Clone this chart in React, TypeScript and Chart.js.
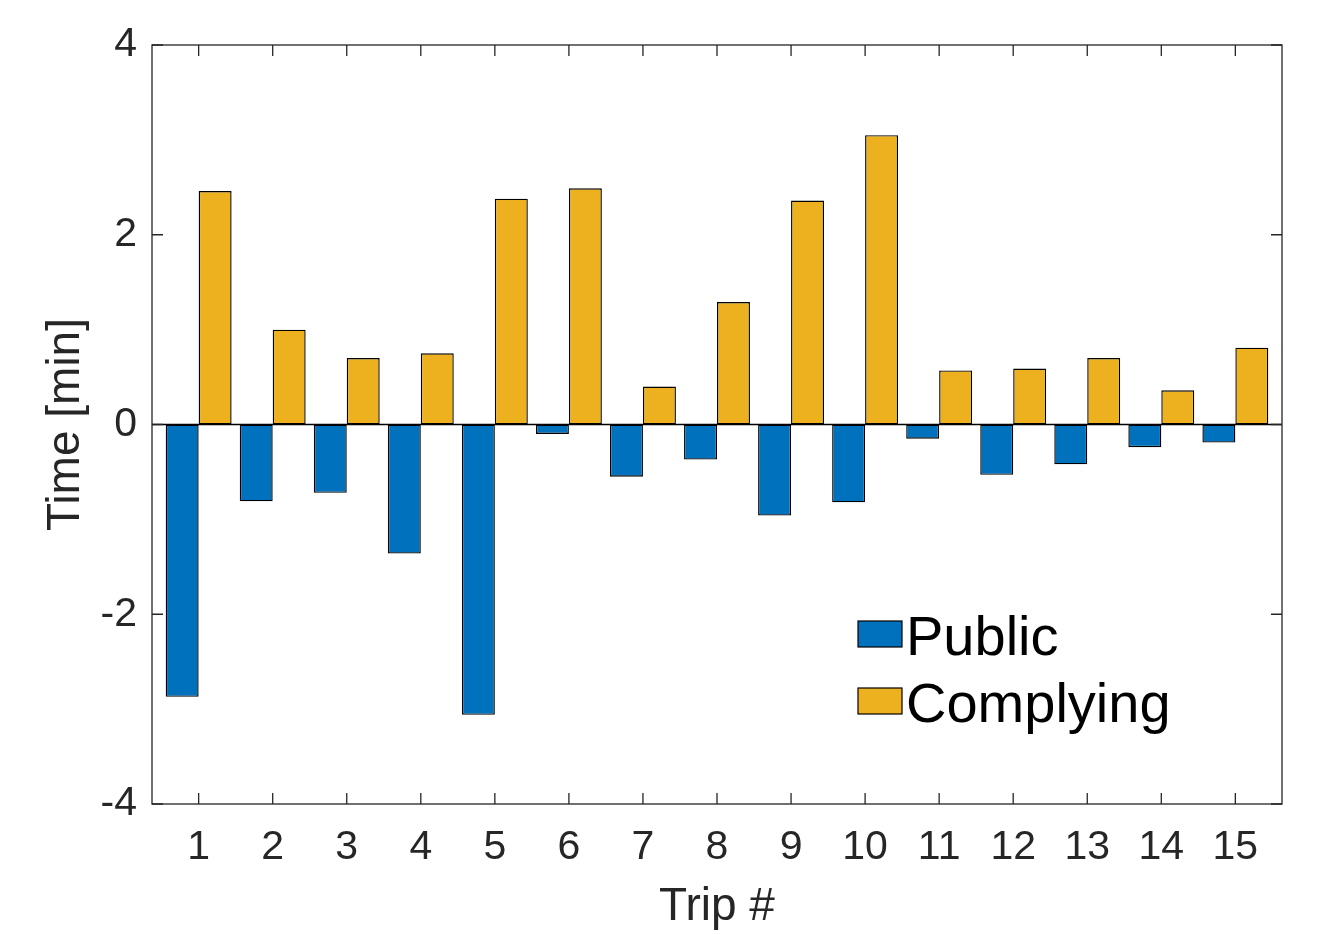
import { useRef, useEffect } from 'react'
import { Chart, registerables } from 'chart.js'

Chart.register(...registerables)

const trips = [1, 2, 3, 4, 5, 6, 7, 8, 9, 10, 11, 12, 13, 14, 15]
const publicTimes = [-2.87, -0.81, -0.72, -1.36, -3.06, -0.1, -0.55, -0.37, -0.96, -0.82, -0.15, -0.53, -0.42, -0.24, -0.19]
const complyingTimes = [2.46, 1.0, 0.7, 0.75, 2.38, 2.49, 0.4, 1.29, 2.36, 3.05, 0.57, 0.59, 0.7, 0.36, 0.81]
const yTicks = [-4, -2, 0, 2, 4]

const FONT = "'Liberation Sans', Arial, sans-serif"
const AXIS = '#262626'

// MATLAB-style box, inward ticks and zero baseline
const framePlugin = {
  id: 'frame',
  afterDatasetsDraw(chart: any) {
    const { ctx, chartArea: a, scales } = chart
    const x = scales.x
    const y = scales.y
    ctx.save()
    const y0 = y.getPixelForValue(0)
    ctx.strokeStyle = '#000'
    ctx.lineWidth = 1.3
    ctx.beginPath()
    ctx.moveTo(a.left, y0)
    ctx.lineTo(a.right, y0)
    ctx.stroke()

    ctx.strokeStyle = AXIS
    ctx.lineWidth = 1.3
    ctx.strokeRect(a.left, a.top, a.right - a.left, a.bottom - a.top)
    ctx.beginPath()
    x.ticks.forEach((t: any) => {
      const px = x.getPixelForValue(t.value)
      ctx.moveTo(px, a.bottom)
      ctx.lineTo(px, a.bottom - 11)
      ctx.moveTo(px, a.top)
      ctx.lineTo(px, a.top + 11)
    })
    y.ticks.forEach((t: any) => {
      const py = y.getPixelForValue(t.value)
      ctx.moveTo(a.left, py)
      ctx.lineTo(a.left + 11, py)
      ctx.moveTo(a.right, py)
      ctx.lineTo(a.right - 11, py)
    })
    ctx.stroke()
    ctx.restore()
  },
}

const legendPlugin = {
  id: 'insideLegend',
  afterDraw(chart: any) {
    const { ctx } = chart
    ctx.save()
    ctx.font = `56px ${FONT}`
    ctx.textBaseline = 'middle'
    ctx.textAlign = 'left'
    chart.data.datasets.forEach((ds: any, i: number) => {
      const top = 621 + i * 67
      ctx.fillStyle = ds.backgroundColor
      ctx.fillRect(858, top, 44, 26)
      ctx.strokeStyle = '#000'
      ctx.lineWidth = 1.2
      ctx.strokeRect(858, top, 44, 26)
      ctx.fillStyle = '#000'
      ctx.fillText(ds.label, 906, top + 19)
    })
    ctx.restore()
  },
}

export default function App() {
  const canvasRef = useRef<HTMLCanvasElement>(null)
  const chartRef = useRef<Chart | null>(null)

  useEffect(() => {
    if (!canvasRef.current) return
    const ctx = canvasRef.current.getContext('2d')
    if (!ctx) return

    Chart.defaults.font.family = FONT

    chartRef.current = new Chart(ctx, {
      type: 'bar',
      data: {
        datasets: [
          {
            label: 'Public',
            data: trips.map((t, i) => ({ x: t, y: publicTimes[i] })),
            backgroundColor: '#0072BD',
            borderColor: '#000',
            borderWidth: 1.4,
            borderSkipped: false,
          },
          {
            label: 'Complying',
            data: trips.map((t, i) => ({ x: t, y: complyingTimes[i] })),
            backgroundColor: '#EDB120',
            borderColor: '#000',
            borderWidth: 1.4,
            borderSkipped: false,
          },
        ],
      },
      options: {
        responsive: false,
        animation: false,
        devicePixelRatio: 1,
        categoryPercentage: 0.89,
        barPercentage: 1,
        layout: { padding: { top: 45, right: 51, left: 0, bottom: 0 } },
        plugins: { legend: { display: false }, tooltip: { enabled: false } },
        scales: {
          x: {
            type: 'linear',
            offset: false,
            min: 0.37,
            max: 15.63,
            afterBuildTicks: (scale: any) => {
              scale.ticks = trips.map((v) => ({ value: v }))
            },
            afterFit: (scale: any) => {
              scale.height = 131
            },
            grid: { display: false, drawTicks: false, offset: false },
            border: { display: false },
            ticks: {
              padding: 19,
              color: AXIS,
              font: { size: 41 },
              maxRotation: 0,
              autoSkip: false,
              callback: (v: any) => String(v),
            },
            title: {
              display: true,
              text: 'Trip #',
              color: AXIS,
              font: { size: 46 },
              padding: { top: 2, bottom: 0 },
            },
          },
          y: {
            min: -4,
            max: 4,
            afterBuildTicks: (scale: any) => {
              scale.ticks = yTicks.map((v) => ({ value: v }))
            },
            afterFit: (scale: any) => {
              scale.width = 152
            },
            grid: { display: false, drawTicks: false },
            border: { display: false },
            ticks: {
              padding: 15,
              color: AXIS,
              font: { size: 41 },
              callback: (v: any) => String(v),
            },
            title: {
              display: true,
              text: 'Time [min]',
              color: AXIS,
              font: { size: 46 },
              padding: { top: 39, bottom: 0 },
            },
          },
        },
      },
      plugins: [framePlugin, legendPlugin],
    })

    return () => {
      chartRef.current?.destroy()
    }
  }, [])

  return (
    <div style={{ position: 'absolute', left: 0, top: 0, width: 1333, height: 935, background: '#fff' }}>
      <canvas ref={canvasRef} width={1333} height={935} />
    </div>
  )
}
